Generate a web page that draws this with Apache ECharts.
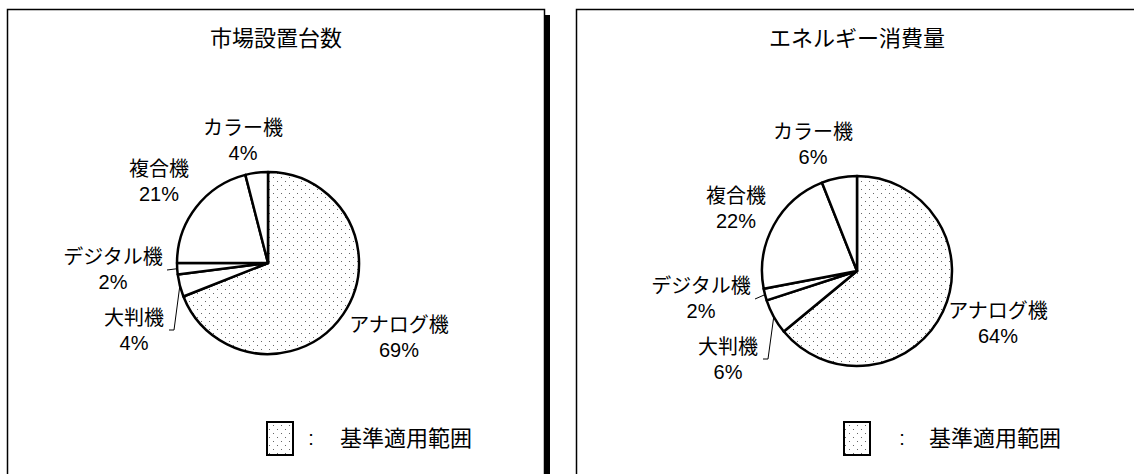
<!DOCTYPE html>
<html><head><meta charset="utf-8">
<script src="https://cdn.jsdelivr.net/npm/echarts@6/dist/echarts.min.js"></script>
<style>html,body{margin:0;padding:0;background:#fff}#c{width:1134px;height:474px}</style>
</head><body><div id="c"></div>
<script>
// ---- data ----
const categories = ['アナログ機', '大判機', 'デジタル機', '複合機', 'カラー機'];
const marketShare = [69, 4, 2, 21, 4];      // 市場設置台数 (%)
const energyShare = [64, 6, 2, 22, 6];      // エネルギー消費量 (%)
const chartTitles = ['市場設置台数', 'エネルギー消費量'];
const legendText = '基準適用範囲';
const patternedIndex = 0;                   // アナログ機 = 基準適用範囲

// ---- layout / style ----
const FONT = '"Liberation Sans", "Noto Sans CJK JP", sans-serif';
const PANELS = [
  { center: [268, 263], r: 91, panelX: 7.5, titleX: 276, legendX: 267, colonX: 311, legendTextX: 406,
    labelOffsets: [[131, 74], [-134, 67], [-155, 6], [-109, -82], [-25, -123]] },
  { center: [857, 271], r: 95, panelX: 576.5, titleX: 857, legendX: 844, colonX: 902, legendTextX: 995,
    labelOffsets: [[141, 52], [-129, 88], [-156, 27], [-121, -63], [-44, -127]] }
];
const LEADER = { 1: 'bracket', 2: 'straight' };

// dotted pattern
const pc = document.createElement('canvas');
pc.width = 8; pc.height = 8;
const pctx = pc.getContext('2d');
pctx.fillStyle = '#fff'; pctx.fillRect(0, 0, 8, 8);
pctx.fillStyle = '#666';
pctx.fillRect(1, 1, 1, 1); pctx.fillRect(5, 5, 1, 1);
const PATTERN = { image: pc.toDataURL(), repeat: 'repeat', imageWidth: 8, imageHeight: 8 };

function makeLabelLayout(p, values) {
  const total = values.reduce((a, b) => a + b, 0);
  return function (params) {
    const i = params.dataIndex;
    const off = p.labelOffsets[i];
    const x = p.center[0] + off[0], y = p.center[1] + off[1];
    const res = { x: x, y: y, align: 'center', verticalAlign: 'middle', hideOverlap: false };
    const kind = LEADER[i];
    if (kind) {
      let before = 0;
      for (let k = 0; k < i; k++) before += values[k];
      const th = (before + values[i] / 2) / total * 2 * Math.PI;
      const px = p.center[0] + p.r * Math.sin(th), py = p.center[1] - p.r * Math.cos(th);
      const right = x + params.labelRect.width / 2;
      if (kind === 'straight') res.labelLinePoints = [[px, py], [right + 4, y + 1]];
      else res.labelLinePoints = [[px, py], [right + 10, y], [right + 5, y]];
    }
    return res;
  };
}

function makeSeries(p, values) {
  return {
    type: 'pie', silent: true, animation: false,
    center: p.center, radius: p.r,
    startAngle: 90, clockwise: true, avoidLabelOverlap: false, minShowLabelAngle: 0,
    itemStyle: { borderColor: '#000', borderWidth: 2.5, color: '#fff' },
    label: {
      show: true, position: 'outside', color: '#000', fontSize: 20, lineHeight: 25,
      fontFamily: FONT, fontWeight: 'normal',
      formatter: (q) => q.name + '\n' + q.value + '%'
    },
    labelLine: { show: false, lineStyle: { color: '#000', width: 1 } },
    labelLayout: makeLabelLayout(p, values),
    emphasis: { disabled: true },
    data: categories.map((c, i) => ({
      name: c, value: values[i],
      itemStyle: i === patternedIndex ? { color: PATTERN } : {},
      labelLine: { show: !!LEADER[i] }
    }))
  };
}

const graphics = [];
PANELS.forEach((p, k) => {
  graphics.push({ type: 'rect', z: 0, shape: { x: p.panelX, y: 9.5, width: k === 0 ? 537 : 620, height: 520 },
    style: { fill: '#fff', stroke: '#000', lineWidth: 1.5 } });
  graphics.push({ type: 'rect', z: 1, shape: { x: p.legendX, y: 422, width: 26, height: 33 },
    style: { fill: PATTERN, stroke: '#000', lineWidth: 2 } });
  graphics.push({ type: 'text', z: 1, x: p.colonX, y: 438,
    style: { text: ':', fontSize: 20, fontFamily: FONT, fill: '#000', align: 'center', verticalAlign: 'middle' } });
  graphics.push({ type: 'text', z: 1, x: p.legendTextX, y: 438,
    style: { text: legendText, fontSize: 22, fontFamily: FONT, fill: '#000', align: 'center', verticalAlign: 'middle' } });
});
graphics.unshift({ type: 'rect', z: 0, shape: { x: 545, y: 15, width: 5, height: 520 }, style: { fill: '#000' } });

const chart = echarts.init(document.getElementById('c'), null, { renderer: 'svg' });
chart.setOption({
  backgroundColor: '#fff',
  animation: false,
  title: PANELS.map((p, k) => ({
    text: chartTitles[k], left: p.titleX, top: 27, textAlign: 'center', padding: 0,
    textStyle: { fontSize: 22, fontWeight: 'normal', color: '#000', fontFamily: FONT }
  })),
  graphic: { elements: graphics },
  series: [makeSeries(PANELS[0], marketShare), makeSeries(PANELS[1], energyShare)]
});
</script></body></html>
